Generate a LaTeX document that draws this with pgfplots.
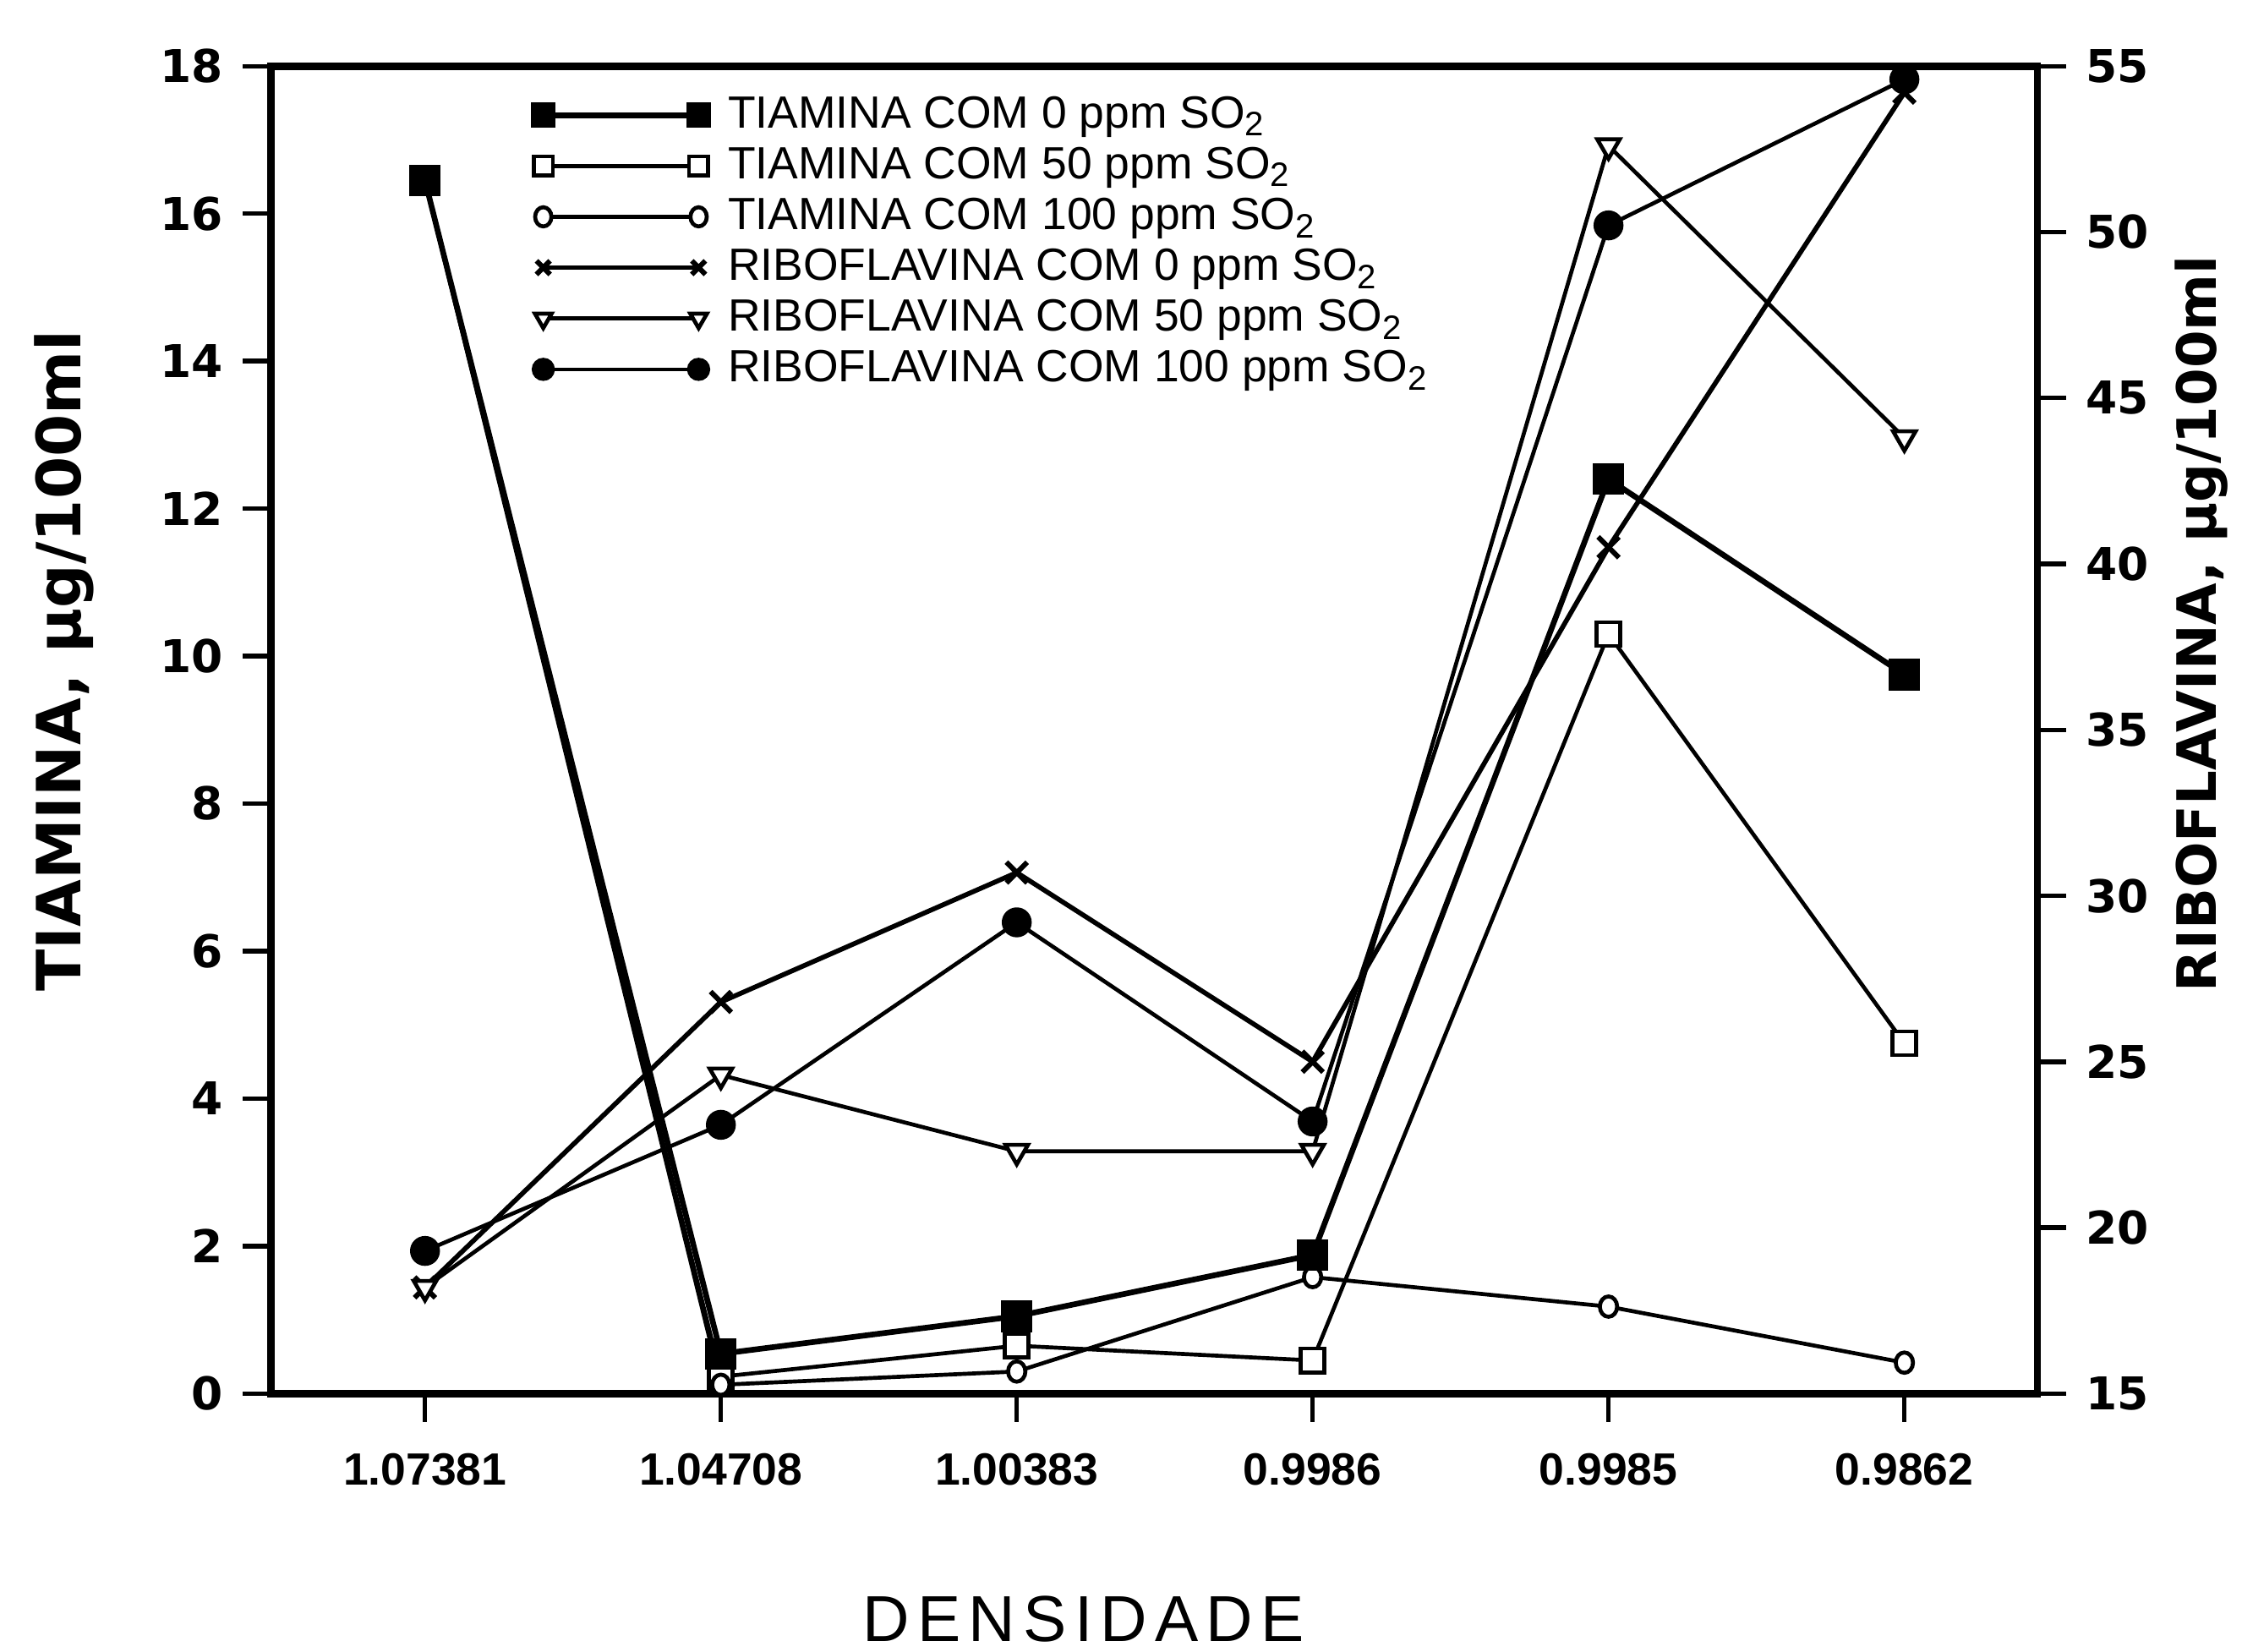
\documentclass[border=0pt]{standalone}
\usepackage{fontspec}
\setmainfont{Liberation Sans}
\newfontfamily\dejavu{DejaVu Sans}
\usepackage{pgfplots}
\pgfplotsset{compat=1.18}
\pgfplotsset{
  common/.style={
    scale only axis, width=312.7pt, height=235pt,
    xmin=-0.52, xmax=5.45,
    tick align=outside, major tick length=5pt,
    axis line style={line width=1.3pt},
    tick style={line width=0.8pt, black},
    /pgf/number format/assume math mode=true,
    yticklabel style={font=\dejavu\bfseries\fontsize{8}{8}\selectfont},
  },
  t0/.style={black, line width=1pt, mark=square*, mark size=2.3pt, mark options={solid, fill=black}},
  t50/.style={black, line width=0.7pt, mark=square*, mark size=2.1pt, mark options={solid, fill=white}},
  t100/.style={black, line width=0.7pt, mark=*, mark size=1.8pt, mark options={solid, fill=white, xscale=0.85}},
  r0/.style={black, line width=0.85pt, mark=x, mark size=2.6pt, mark options={solid, line width=0.9pt}},
  r50/.style={black, line width=0.7pt, mark=triangle*, mark size=2.3pt, mark options={solid, fill=white, rotate=180}},
  r100/.style={black, line width=0.7pt, mark=*, mark size=2.3pt, mark options={solid, fill=black}},
}
\begin{document}
\begin{tikzpicture}
\begin{axis}[common, name=ax,
  ymin=0, ymax=18, ytick={0,2,...,18}, ytick pos=left,
  xtick={0,1,2,3,4,5},
  xticklabels={1.07381,1.04708,1.00383,0.9986,0.9985,0.9862},
  xtick pos=bottom,
  xticklabel style={font=\bfseries\fontsize{8}{8}\selectfont, yshift=-2pt},
  ylabel={TIAMINA, µg/100ml},
  ylabel style={at={(axis description cs:-0.117,0.552)}, anchor=center, font=\dejavu\bfseries\fontsize{10.8}{12}\selectfont},
  xlabel={\addfontfeature{LetterSpace=12}DENSIDADE},
  xlabel style={at={(axis description cs:0.46,-0.170)}, anchor=center, font=\fontsize{11.5}{12}\selectfont},
]
\addplot[t50] coordinates {(0,16.45) (1,0.23) (2,0.65) (3,0.45) (4,10.3) (5,4.75)};
\addplot[t100] coordinates {(0,16.45) (1,0.12) (2,0.3) (3,1.58) (4,1.18) (5,0.42)};
\addplot[t0] coordinates {(0,16.45) (1,0.54) (2,1.05) (3,1.88) (4,12.4) (5,9.75)};
\end{axis}
\begin{axis}[common,
  ymin=15, ymax=55, ytick={15,20,...,55},
  axis x line=none, axis y line*=right,
  ylabel={RIBOFLAVINA, µg/100ml},
  ylabel style={at={(axis description cs:1.093,0.58)}, anchor=center, rotate=0, font=\dejavu\bfseries\fontsize{9.6}{12}\selectfont},
  legend style={draw=none, fill=none, inner sep=0pt, at={(axis description cs:0.148,0.982)}, anchor=north west,
    font=\fontsize{8}{8}\selectfont, row sep=0.5pt, column sep=3pt,
    nodes={inner sep=0.5pt, text height=6pt, text depth=1.5pt}},
  legend cell align=left,
  legend image code/.code={\draw[#1, mark size=1.7pt] plot coordinates {(0pt,0pt) (27.5pt,0pt)};},
]
\addlegendimage{t0}
\addlegendentry{TIAMINA COM 0 ppm SO\textsubscript{2}}
\addlegendimage{t50}
\addlegendentry{TIAMINA COM 50 ppm SO\textsubscript{2}}
\addlegendimage{t100}
\addlegendentry{TIAMINA COM 100 ppm SO\textsubscript{2}}
\addplot[r0] coordinates {(0,18.2) (1,26.8) (2,30.7) (3,25.0) (4,40.5) (5,54.2)};
\addlegendentry{RIBOFLAVINA COM 0 ppm SO\textsubscript{2}}
\addplot[r50] coordinates {(0,18.2) (1,24.6) (2,22.3) (3,22.3) (4,52.6) (5,43.8)};
\addlegendentry{RIBOFLAVINA COM 50 ppm SO\textsubscript{2}}
\addplot[r100] coordinates {(0,19.3) (1,23.1) (2,29.2) (3,23.2) (4,50.2) (5,54.6)};
\addlegendentry{RIBOFLAVINA COM 100 ppm SO\textsubscript{2}}
\end{axis}
\pgfresetboundingbox
\path[use as bounding box] (ax.south west) ++(-48pt,-45.7pt) rectangle ++(396.9pt,292.4pt);
\end{tikzpicture}
\end{document}
